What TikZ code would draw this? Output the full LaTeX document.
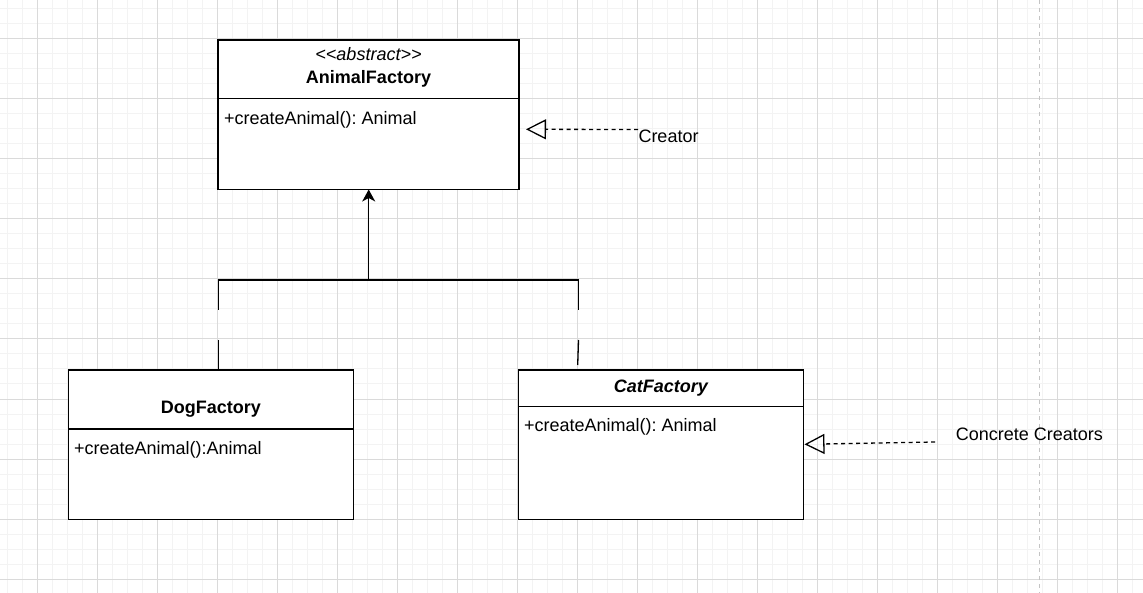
\documentclass[tikz,border=0pt]{standalone}
\usepackage{fontspec}
\setmainfont{Liberation Sans}
\usetikzlibrary{arrows.meta}
\definecolor{gmaj}{RGB}{218,218,218}
\definecolor{gmin}{RGB}{243,243,243}
\definecolor{pageline}{RGB}{196,196,196}
\frenchspacing
\begin{document}
\begin{tikzpicture}[x=1pt,y=-1pt,
  font=\fontsize{18}{21}\selectfont,
  umlbox/.style={draw=black, line width=1.4pt, fill=white, inner sep=0pt, outer sep=0pt, anchor=north west},
  sepline/.style={draw=black, line width=1.2pt},
  txt/.style={inner sep=0pt, outer sep=0pt, text=black},
  conn/.style={draw=black, line width=1.3pt},
  realize/.style={draw=black, line width=1.3pt, dash pattern=on 4pt off 3.5pt,
     -{Triangle[open, length=20pt, width=20pt, line width=1.3pt]}},
  inherit/.style={draw=black, line width=1.3pt, -{Stealth[length=12pt, width=13pt, inset=3.5pt]}}
]
\useasboundingbox (0,0) rectangle (1143,593);
\fill[white] (0,0) rectangle (1143,593);
% grid
\foreach \x in {7,22,...,1142} \draw[gmin, line width=1pt] (\x,0) -- (\x,593);
\foreach \y in {9,24,...,593} \draw[gmin, line width=1pt] (0,\y) -- (1143,\y);
\foreach \x in {37,97,...,1117} \draw[gmaj, line width=1pt] (\x,0) -- (\x,593);
\foreach \y in {39,99,...,579} \draw[gmaj, line width=1pt] (0,\y) -- (1143,\y);
% page break line
\draw[pageline, line width=1.3pt, dash pattern=on 4pt off 4pt] (1039.3,0) -- (1039.3,593);

% AnimalFactory
\node[umlbox, minimum width=301pt, minimum height=149.5pt] (af) at (218,40) {};
\draw[sepline] (af.west |- 0,98.3) -- (af.east |- 0,98.3);
\node[txt, anchor=base] (afst) at (368.5,60.7) {\itshape<\kern0pt<abstract>\kern0pt>};
\node[txt, anchor=base] (aft) at (368.5,83.3) {\bfseries AnimalFactory};
\node[txt, anchor=base west] (afm) at (224,124.3) {+createAnimal(): Animal};

% DogFactory
\node[umlbox, minimum width=285pt, minimum height=149.5pt] (dog) at (68.3,370) {};
\draw[sepline] (dog.west |- 0,429) -- (dog.east |- 0,429);
\node[txt, anchor=base] (dogt) at (210.8,413.3) {\bfseries DogFactory};
\node[txt, anchor=base west] (dogm) at (74,454.3) {+createAnimal():Animal};

% CatFactory
\node[umlbox, minimum width=285pt, minimum height=149.5pt] (cat) at (518.3,370) {};
\draw[sepline] (cat.west |- 0,406.7) -- (cat.east |- 0,406.7);
\node[txt, anchor=base] (catt) at (660.8,392.3) {\bfseries\itshape CatFactory};
\node[txt, anchor=base west] (catm) at (524,431.7) {+createAnimal(): Animal};

% inheritance tree
\coordinate (j) at (368.7,280);
\coordinate (jl) at (218.3,280);
\coordinate (jr) at (578.7,280);
\coordinate (dl1) at (218.3,310);
\coordinate (dl2) at (218.3,340);
\coordinate (cr1) at (578.7,310);
\coordinate (cr2) at (578.5,340);
\coordinate (cr3) at (577.7,365);
\draw[inherit] (j) -- (j |- af.south);
\draw[conn] (dl1) -- (jl) -- (jr) -- (cr1);
\draw[conn] (dl2) -- (dl2 |- dog.north);
\draw[conn] (cr2) -- (cr3);

% labels with realization arrows
\node[txt, anchor=base west] (crl) at (638.5,142.7) {Creator};
\coordinate (crs) at (638,129.5);
\coordinate (crt) at (526,129.3);
\draw[realize] (crs) -- (crt);

\node[txt, anchor=base west] (ccl) at (955.8,440) {Concrete Creators};
\coordinate (ccs) at (935,442);
\coordinate (cct) at (804.5,444.3);
\draw[realize] (ccs) -- (cct);
\end{tikzpicture}
\end{document}
